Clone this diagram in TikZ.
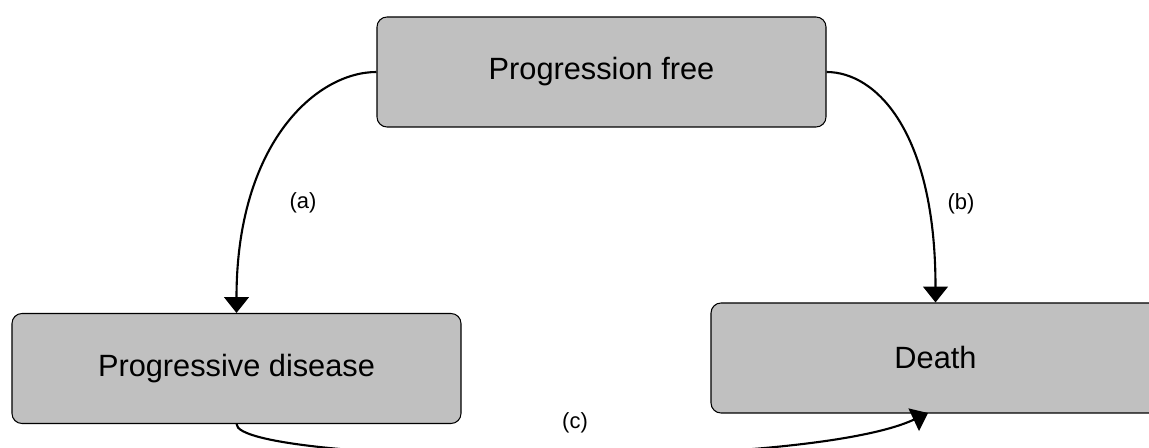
\documentclass[tikz,border=0pt]{standalone}
\usepackage{fontspec}
\setmainfont{Liberation Sans}
\usetikzlibrary{arrows.meta}
\definecolor{boxgray}{RGB}{192,192,192}
\tikzset{
	statebox/.style={draw, semithick, fill=boxgray, rounded corners=0.2cm,
		minimum width=8.98cm, minimum height=2.2cm, inner sep=0pt,
		font=\fontsize{17.5}{21}\selectfont},
	trans/.style={very thick, -{Triangle[length=9pt, width=14pt]}},
	lab/.style={font=\fontsize{12.5}{15}\selectfont}
}

\begin{document}
\begin{tikzpicture}
	\useasboundingbox (0, 0) rectangle (22.98, -8.96);
	\node[statebox] (PF) at (12.03, -1.44) {Progression free};
	\node[statebox] (PD) at (4.73, -7.37) {Progressive disease};
	\node[statebox] (D) at (18.71, -7.16) {Death};
	\coordinate (Dc) at (18.56, -8.26);
	\draw[trans] (PF.west) .. controls +(-1.2, 0) and +(0, 3.4) .. (PD.north);
	\draw[trans] (PF.east) .. controls +(1.0, 0) and +(0, 3.4) .. (D.north);
	\draw[trans] (PD.south) .. controls +(0, -0.8) and +(-2.56, -1.2) .. (Dc);
	\node[lab] (la) at (6.06, -4.06) {(a)};
	\node[lab] (lb) at (19.22, -4.08) {(b)};
	\node[lab] (lc) at (11.5, -8.46) {(c)};
\end{tikzpicture}
\end{document}
